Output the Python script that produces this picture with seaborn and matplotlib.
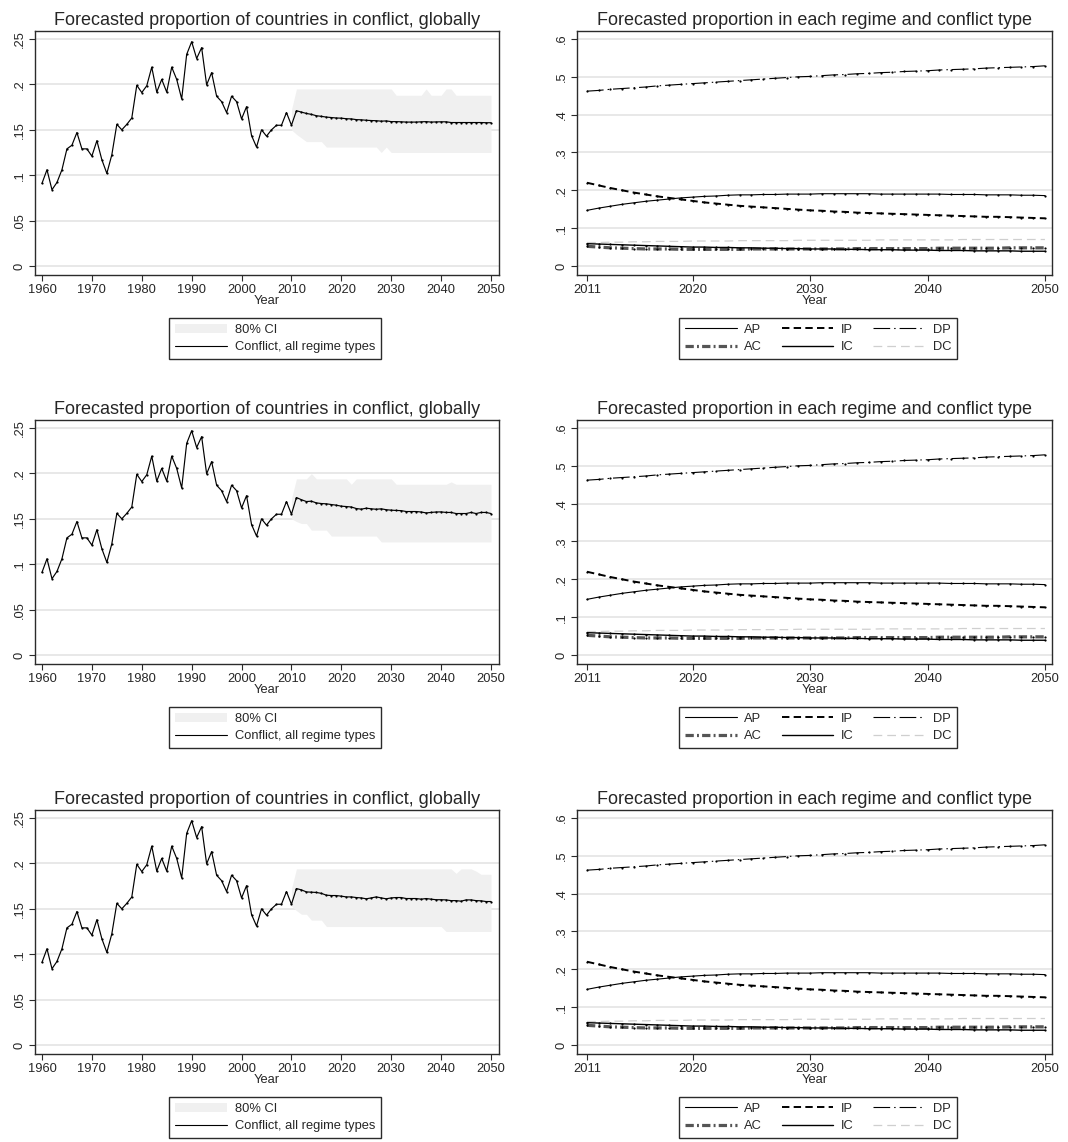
import matplotlib
matplotlib.use("Agg")
import matplotlib.pyplot as plt
from matplotlib.patches import Patch
from matplotlib.lines import Line2D
import pandas as pd
import seaborn as sns

sns.set_theme(style="ticks")
plt.rcParams["font.family"] = ["Liberation Sans", "DejaVu Sans"]

# ---------------- data ----------------
hist_years = list(range(1960, 2011))
hist_conflict = [
    0.091, 0.106, 0.084, 0.092, 0.106, 0.129, 0.133, 0.147, 0.129, 0.129,
    0.121, 0.138, 0.117, 0.102, 0.1225, 0.156, 0.150, 0.156, 0.163, 0.199,
    0.191, 0.1985, 0.219, 0.1915, 0.2055, 0.1915, 0.219, 0.2055, 0.184, 0.233,
    0.247, 0.2285, 0.2405, 0.1995, 0.213, 0.187, 0.181, 0.169, 0.187, 0.181,
    0.162, 0.1755, 0.1437, 0.131, 0.150, 0.143, 0.150, 0.155, 0.155, 0.169,
    0.155,
]

fc_years = list(range(2011, 2051))
ci_years = list(range(2010, 2051))

# forecast of the global conflict share, three model runs
fc_run1 = [
    0.171, 0.1695, 0.168, 0.167, 0.1655, 0.1648, 0.164, 0.1635, 0.163, 0.1628,
    0.1622, 0.162, 0.1612, 0.161, 0.1605, 0.1602, 0.160, 0.1595, 0.1598, 0.159,
    0.159, 0.1588, 0.1585, 0.1585, 0.1585, 0.1588, 0.159, 0.1585, 0.1587, 0.1588,
    0.1588, 0.158, 0.158, 0.158, 0.158, 0.158, 0.158, 0.158, 0.1578, 0.1578,
]
ci_low_run1 = [
    0.150, 0.145, 0.141, 0.137, 0.137, 0.137, 0.137, 0.131, 0.131, 0.131,
    0.131, 0.131, 0.131, 0.131, 0.131, 0.131, 0.131, 0.131, 0.125, 0.131,
    0.125, 0.125, 0.125, 0.125, 0.125, 0.125, 0.125, 0.125, 0.125, 0.125,
    0.125, 0.125, 0.125, 0.125, 0.125, 0.125, 0.125, 0.125, 0.125, 0.125,
    0.125,
]
ci_high_run1 = [
    0.172, 0.195, 0.195, 0.195, 0.195, 0.195, 0.195, 0.195, 0.195, 0.195,
    0.195, 0.195, 0.195, 0.195, 0.195, 0.195, 0.195, 0.195, 0.195, 0.195,
    0.195, 0.188, 0.188, 0.188, 0.188, 0.188, 0.188, 0.195, 0.188, 0.188,
    0.188, 0.195, 0.195, 0.188, 0.188, 0.188, 0.188, 0.188, 0.188, 0.188,
    0.188,
]

fc_run2 = [
    0.1734, 0.171, 0.169, 0.1694, 0.1675, 0.1668, 0.1665, 0.1657, 0.165, 0.1639,
    0.1635, 0.163, 0.1613, 0.1606, 0.1617, 0.161, 0.1605, 0.161, 0.160, 0.1595,
    0.1592, 0.159, 0.158, 0.158, 0.158, 0.1575, 0.1565, 0.157, 0.1575, 0.1576,
    0.157, 0.157, 0.1558, 0.1558, 0.1558, 0.157, 0.1558, 0.157, 0.157, 0.1558,
]
ci_low_run2 = [
    0.150, 0.147, 0.1448, 0.1448, 0.1375, 0.1375, 0.1375, 0.1375, 0.131, 0.131,
    0.131, 0.131, 0.131, 0.131, 0.131, 0.131, 0.131, 0.131, 0.1245, 0.1245,
    0.1245, 0.1245, 0.1245, 0.1245, 0.1245, 0.1245, 0.1245, 0.1245, 0.1245, 0.1245,
    0.1245, 0.1245, 0.1245, 0.1245, 0.1245, 0.1245, 0.1245, 0.1245, 0.1245, 0.1245,
    0.1245,
]
ci_high_run2 = [
    0.172, 0.194, 0.194, 0.194, 0.1998, 0.194, 0.194, 0.194, 0.194, 0.194,
    0.194, 0.194, 0.188, 0.194, 0.194, 0.194, 0.194, 0.194, 0.194, 0.194,
    0.194, 0.188, 0.188, 0.188, 0.188, 0.188, 0.188, 0.188, 0.188, 0.188,
    0.188, 0.188, 0.1907, 0.188, 0.188, 0.188, 0.188, 0.188, 0.188, 0.188,
    0.188,
]

fc_run3 = [
    0.1723, 0.1708, 0.1686, 0.1683, 0.168, 0.167, 0.165, 0.1646, 0.1646, 0.1639,
    0.1631, 0.1631, 0.1624, 0.162, 0.161, 0.162, 0.1631, 0.162, 0.161, 0.162,
    0.1624, 0.1624, 0.1613, 0.1613, 0.1613, 0.1606, 0.1613, 0.1606, 0.160, 0.160,
    0.1598, 0.159, 0.159, 0.1584, 0.1598, 0.1598, 0.159, 0.1588, 0.158, 0.158,
]
ci_low_run3 = [
    0.153, 0.148, 0.144, 0.144, 0.1375, 0.1375, 0.1375, 0.1305, 0.1305, 0.1305,
    0.1305, 0.1305, 0.1305, 0.1305, 0.1305, 0.1305, 0.1305, 0.1305, 0.1305, 0.1305,
    0.1305, 0.1305, 0.1305, 0.1305, 0.1305, 0.1305, 0.1305, 0.1305, 0.1305, 0.1305,
    0.1305, 0.125, 0.125, 0.125, 0.125, 0.125, 0.125, 0.125, 0.125, 0.125,
    0.125,
]
ci_high_run3 = [
    0.172, 0.194, 0.194, 0.194, 0.194, 0.194, 0.194, 0.194, 0.194, 0.194,
    0.194, 0.194, 0.194, 0.194, 0.194, 0.194, 0.194, 0.194, 0.194, 0.194,
    0.194, 0.194, 0.194, 0.194, 0.194, 0.194, 0.194, 0.194, 0.194, 0.194,
    0.194, 0.194, 0.194, 0.189, 0.194, 0.194, 0.194, 0.1915, 0.188, 0.188,
    0.188,
]

# regime / conflict type shares, 2011-2050
ap = [
    0.147, 0.153, 0.158, 0.163, 0.167, 0.171, 0.174, 0.177, 0.180, 0.182,
    0.184, 0.185, 0.187, 0.188, 0.188, 0.189, 0.189, 0.190, 0.190, 0.190,
    0.191, 0.191, 0.191, 0.191, 0.191, 0.190, 0.190, 0.190, 0.190, 0.190,
    0.190, 0.189, 0.189, 0.189, 0.188, 0.188, 0.188, 0.187, 0.187, 0.186,
]
ip = [
    0.220, 0.213, 0.206, 0.200, 0.194, 0.189, 0.184, 0.180, 0.176, 0.172,
    0.168, 0.165, 0.162, 0.159, 0.157, 0.155, 0.153, 0.151, 0.149, 0.147,
    0.146, 0.144, 0.143, 0.141, 0.140, 0.139, 0.138, 0.137, 0.136, 0.135,
    0.134, 0.133, 0.132, 0.131, 0.130, 0.130, 0.129, 0.128, 0.127, 0.126,
]
dp = [
    0.462, 0.464, 0.467, 0.469, 0.471, 0.473, 0.476, 0.478, 0.480, 0.482,
    0.484, 0.486, 0.488, 0.490, 0.492, 0.494, 0.496, 0.498, 0.500, 0.501,
    0.503, 0.505, 0.506, 0.508, 0.509, 0.511, 0.512, 0.514, 0.515, 0.516,
    0.518, 0.519, 0.520, 0.521, 0.523, 0.524, 0.525, 0.526, 0.527, 0.529,
]
ac = [
    0.052, 0.050, 0.048, 0.047, 0.046, 0.045, 0.045, 0.045, 0.044, 0.044,
    0.044, 0.044, 0.044, 0.044, 0.045, 0.045, 0.045, 0.045, 0.045, 0.045,
    0.045, 0.045, 0.045, 0.046, 0.046, 0.046, 0.046, 0.046, 0.046, 0.046,
    0.047, 0.047, 0.047, 0.047, 0.047, 0.047, 0.048, 0.048, 0.048, 0.048,
]
ic = [
    0.059, 0.058, 0.057, 0.056, 0.055, 0.054, 0.053, 0.052, 0.051, 0.050,
    0.050, 0.049, 0.049, 0.048, 0.048, 0.047, 0.047, 0.046, 0.046, 0.045,
    0.045, 0.045, 0.044, 0.044, 0.043, 0.043, 0.043, 0.042, 0.042, 0.042,
    0.041, 0.041, 0.041, 0.040, 0.040, 0.040, 0.040, 0.039, 0.039, 0.039,
]
dc = [
    0.062, 0.062, 0.063, 0.063, 0.064, 0.064, 0.065, 0.065, 0.065, 0.066,
    0.066, 0.066, 0.066, 0.067, 0.067, 0.067, 0.067, 0.067, 0.068, 0.068,
    0.068, 0.068, 0.068, 0.068, 0.068, 0.069, 0.069, 0.069, 0.069, 0.069,
    0.069, 0.069, 0.070, 0.070, 0.070, 0.070, 0.070, 0.070, 0.070, 0.070,
]

runs = [
    (fc_run1, ci_low_run1, ci_high_run1),
    (fc_run2, ci_low_run2, ci_high_run2),
    (fc_run3, ci_low_run3, ci_high_run3),
]

type_labels = ["AP", "IP", "DP", "AC", "IC", "DC"]
type_values = [ap, ip, dp, ac, ic, dc]
type_styles = {
    "AP": dict(color="black", lw=0.8, ls="-"),
    "IP": dict(color="black", lw=1.4, ls=(0, (3.8, 2.2))),
    "DP": dict(color="black", lw=0.8, ls=(0, (15, 3.6, 1.3, 3.6))),
    "AC": dict(color="#555555", lw=2.3, ls=(0, (2.6, 1.0, 0.6, 1.0))),
    "IC": dict(color="black", lw=1.0, ls="-"),
    "DC": dict(color="#cfcfcf", lw=0.9, ls=(0, (7, 4))),
}

# ---------------- layout ----------------
W, H = 1068, 1142
fig = plt.figure(figsize=(W / 100, H / 100), dpi=100)
fig.patch.set_facecolor("white")

ROW_TOPS = [31, 420, 810]
AX_H = 244
LEFT_X = (35, 499)
RIGHT_X = (577, 1052)
FS = 9.3
TITLE_FS = 13.0
BAND = "#f0f0f0"
SPINE = "#2b2b2b"


def px_axes(x0, x1, top):
    return fig.add_axes([x0 / W, 1 - (top + AX_H) / H, (x1 - x0) / W, AX_H / H])


def style_axes(ax, title, yticks, ylabels):
    ax.set_facecolor("white")
    ax.set_yticks(yticks)
    ax.set_yticklabels(ylabels, rotation=90, va="center")
    ax.yaxis.grid(True, color="#e4e4e4", lw=1.2)
    ax.xaxis.grid(False)
    ax.set_axisbelow(True)
    ax.tick_params(axis="both", direction="out", length=4.5, width=0.8,
                   color=SPINE, labelsize=FS, pad=2, bottom=True, left=True)
    for s in ax.spines.values():
        s.set_visible(True)
        s.set_color(SPINE)
        s.set_linewidth(1.0)
    ax.set_title(title, fontsize=TITLE_FS, pad=4)
    ax.set_xlabel("Year", fontsize=FS, labelpad=-1)
    ax.set_ylabel("")


def add_legend(ax, handles, labels, cx, top, ncol, colspace):
    leg = ax.legend(handles, labels, loc="upper center",
                    bbox_to_anchor=(cx / W, 1 - top / H),
                    bbox_transform=fig.transFigure, ncol=ncol,
                    frameon=True, fancybox=False, framealpha=1,
                    edgecolor=SPINE, fontsize=FS, handlelength=4.0,
                    handletextpad=0.6, borderpad=0.45, labelspacing=0.4,
                    columnspacing=colspace, borderaxespad=0)
    leg.get_frame().set_linewidth(1.0)
    return leg


for top, (fc, lo, hi) in zip(ROW_TOPS, runs):
    # ---- global conflict share with interval band ----
    ax = px_axes(*LEFT_X, top)
    conflict = pd.DataFrame({
        "Year": hist_years + fc_years,
        "share": hist_conflict + fc,
    })
    ax.fill_between(ci_years, lo, hi, color=BAND, lw=0, zorder=1)
    sns.lineplot(data=conflict, x="Year", y="share", ax=ax, color="black",
                 lw=0.85, marker="o", markersize=1.6, markeredgewidth=0,
                 zorder=3)
    ax.set_xlim(1958.6, 2051.6)
    ax.set_ylim(-0.0099, 0.2588)
    ax.set_xticks(range(1960, 2051, 10))
    style_axes(ax, "Forecasted proportion of countries in conflict, globally",
               [0, 0.05, 0.1, 0.15, 0.2, 0.25],
               ["0", ".05", ".1", ".15", ".2", ".25"])
    add_legend(ax,
               [Patch(facecolor=BAND, edgecolor="none"),
                Line2D([], [], color="black", lw=0.8)],
               ["80% CI", "Conflict, all regime types"],
               275, top + AX_H + 43, 1, 1.5)

    # ---- shares by regime and conflict type ----
    ax2 = px_axes(*RIGHT_X, top)
    types = pd.DataFrame({
        "Year": fc_years * len(type_labels),
        "share": sum(type_values, []),
        "type": sum([[t] * len(fc_years) for t in type_labels], []),
    })
    draw_order = ["DC", "AC", "IC", "AP", "IP", "DP"]
    for t in draw_order:
        st = type_styles[t]
        sns.lineplot(data=types[types["type"] == t], x="Year", y="share",
                     ax=ax2, color=st["color"], lw=st["lw"],
                     linestyle=st["ls"], marker="o",
                     markersize=1.6 if t != "DC" else 0,
                     markeredgewidth=0, markerfacecolor="black", zorder=3)
    ax2.set_xlim(2010.15, 2050.6)
    ax2.set_ylim(-0.0238, 0.621)
    ax2.set_xticks([2011, 2020, 2030, 2040, 2050])
    style_axes(ax2, "Forecasted proportion in each regime and conflict type",
               [0, 0.1, 0.2, 0.3, 0.4, 0.5, 0.6],
               ["0", ".1", ".2", ".3", ".4", ".5", ".6"])
    legend_order = ["AP", "AC", "IP", "IC", "DP", "DC"]
    handles = [Line2D([], [], color=type_styles[t]["color"],
                      lw=type_styles[t]["lw"], linestyle=type_styles[t]["ls"])
               for t in legend_order]
    add_legend(ax2, handles, legend_order, 818, top + AX_H + 43, 3, 1.5)

fig.savefig("out.png", dpi=100, facecolor="white")
